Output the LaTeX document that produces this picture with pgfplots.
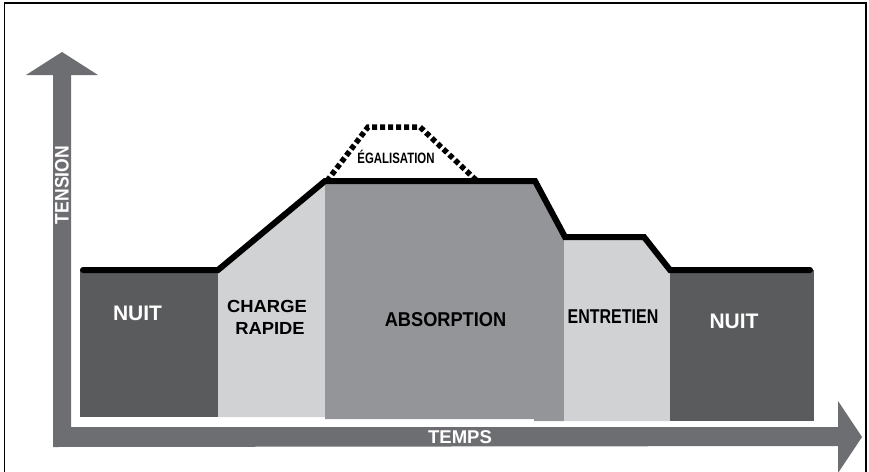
\documentclass[border=0pt]{standalone}
\usepackage{pgfplots}
\pgfplotsset{compat=1.18}
\usepackage{graphicx}
\usepackage{fontspec}
\setmainfont{Liberation Sans}
\definecolor{nuit}{HTML}{5A5B5D}
\definecolor{clair}{HTML}{D1D2D4}
\definecolor{moyen}{HTML}{939598}
\definecolor{fleche}{HTML}{6D6E71}
\newcommand{\lab}[3]{{\fontsize{#1}{#1}\selectfont\bfseries\scalebox{#2}[1]{#3}}}
\begin{document}
\begin{tikzpicture}
\begin{axis}[scale only axis, width=869pt, height=471pt,
  xmin=0, xmax=869, ymin=0, ymax=471, y dir=reverse,
  hide axis, clip=false]
% arrows
\addplot[fill=fleche, draw=none] coordinates {(53,447) (53,75) (26,75) (62,52) (98,75) (71,75) (71,427) (838,427) (838,401) (862,437) (838,473) (838,446)} -- cycle;
% blocks
\addplot[fill=nuit, draw=none] coordinates {(80,417) (80,270) (218,270) (218,417)} -- cycle;
\addplot[fill=clair, draw=none] coordinates {(218,417) (218,270) (325,181) (325,417)} -- cycle;
\addplot[fill=moyen, draw=none] coordinates {(325,419) (325,181) (537,181) (564,230) (564,421) (534,421) (534,419)} -- cycle;
\addplot[fill=clair, draw=none] coordinates {(564,421) (564,237) (644,237) (670,270) (670,421)} -- cycle;
\addplot[fill=nuit, draw=none] coordinates {(670,421) (670,270) (814,270) (814,421)} -- cycle;
% voltage line
\addplot[black, line width=6pt, line cap=round, line join=miter] coordinates {(83,270) (218,270) (325,181) (535,181) (565,237) (644,237) (670,270) (810,270)};
% equalisation
\addplot[black, line width=5.5pt, dash pattern=on 5pt off 3pt] coordinates {(327,181) (368,127) (420,127) (477,181)};
% labels
\node[text=white] at (axis cs:137.5,313) {\lab{21}{1.0}{NUIT}};
\node[text=white] at (axis cs:734,321) {\lab{21}{1.0}{NUIT}};
\node at (axis cs:267,306) {\lab{17.5}{1.05}{CHARGE}};
\node at (axis cs:270,328) {\lab{17.5}{1.05}{RAPIDE}};
\node at (axis cs:445.5,320) {\lab{20}{0.91}{ABSORPTION}};
\node at (axis cs:613,317) {\lab{20}{0.8}{ENTRETIEN}};
\node at (axis cs:396,157) {\lab{15}{0.76}{ÉGALISATION}};
\node[text=white] at (axis cs:460,437) {\lab{18.5}{1.0}{TEMPS}};
\node[text=white, rotate=90] at (axis cs:62,185) {\lab{19.5}{0.9}{TENSION}};
% frame
\addplot[black, line width=1.5pt] coordinates {(4.5,478) (4.5,3) (866,3) (866,478)};
\end{axis}
\pgfresetboundingbox
\path[use as bounding box] (0,0) rectangle (869pt,471pt);
\end{tikzpicture}
\end{document}
